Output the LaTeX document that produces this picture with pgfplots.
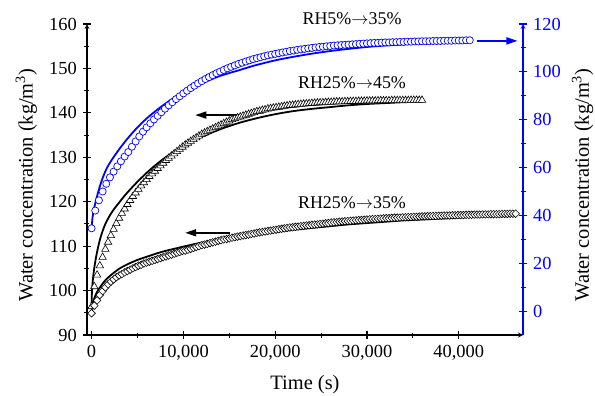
\documentclass[border=0pt]{standalone}
\usepackage{pgfplots}
\pgfplotsset{compat=1.18}
\usepackage{fontspec}
\setmainfont{Liberation Serif}
\usetikzlibrary{arrows.meta}
\begin{document}
\fontsize{18}{21}\selectfont
\begin{tikzpicture}
\pgfplotsset{
  common/.style={scale only axis, width=436bp, height=311bp,
    xmin=-500, xmax=47000, clip=false,
    /pgf/number format/assume math mode=true,
    /pgf/number format/1000 sep={,},
    tick align=outside, major tick length=8bp, minor tick length=5bp,
    axis line style={-, line width=1.2bp},
    every tick/.style={line width=1.1bp},
    tick label style={font=\fontsize{18.5}{21}\selectfont},
    label style={font=\fontsize{20.5}{24}\selectfont},
  }
}
\begin{axis}[common, name=ax,
  ymin=90, ymax=160,
  axis x line=bottom, axis y line=left,
  xtick={0,10000,20000,30000,40000}, minor x tick num=1,
  ytick={90,100,...,160}, minor y tick num=1,
  xlabel={Time (s)},
  xlabel style={yshift=-3bp},
  ylabel={Water concentration (kg/m\textsuperscript{3})},
  ylabel style={at={(ticklabel cs:0.482)}, font=\fontsize{20.5}{24}\selectfont},
  scaled x ticks=false,
]
% fit line RH25->45
\addplot[black, line width=1.8bp, smooth] coordinates {(0,96.5)(25,99)(100,101.5)(200,103.6)(300,105.2)(450,107.1)(650,109.2)(900,111.4)(1200,113.4)(1500,115.0)(1800,116.2)(2100,117.3)(2500,118.5)(3000,119.8)(3500,121.1)(4000,122.3)(5000,124.5)(6000,126.5)(7000,128.3)(8000,129.9)(9000,131.3)(10000,132.5)(11000,133.6)(12000,134.6)(14000,136.3)(16000,137.7)(18000,138.8)(20000,139.7)(22000,140.4)(24000,140.9)(26000,141.3)(28000,141.7)(30000,142.0)(32000,142.2)(34000,142.4)(36000,142.5)};
% fit line RH25->35
\addplot[black, line width=1.8bp, smooth] coordinates {(0,95)(25,96)(100,96.9)(300,98.3)(600,99.7)(1000,101.0)(1500,102.3)(2000,103.3)(3000,104.9)(4000,106.0)(5000,106.9)(6000,107.6)(7000,108.3)(8000,108.9)(9000,109.4)(10000,109.9)(12000,110.8)(14000,111.5)(16000,112.1)(18000,112.7)(20000,113.2)(22000,113.7)(24000,114.1)(26000,114.5)(28000,114.9)(30000,115.2)(32000,115.5)(34000,115.8)(36000,116.0)(38000,116.2)(40000,116.4)(42000,116.6)(44000,116.8)(46200,116.9)};
% triangles RH25->45
\addplot[only marks, mark=triangle*, mark size=4.3, mark options={fill=white, draw=black, line width=0.6bp}] coordinates {(0,96.4)(300,100.9)(600,103.5)(900,105.6)(1200,107.5)(1500,109.3)(1800,110.9)(2100,112.4)(2400,113.8)(2700,115.1)(3000,116.3)(3300,117.4)(3600,118.4)(3900,119.4)(4200,120.3)(4500,121.2)(4800,122.0)(5100,122.8)(5400,123.6)(5700,124.3)(6000,125.0)(6300,125.7)(6600,126.3)(6900,126.9)(7200,127.5)(7500,128.1)(7800,128.7)(8100,129.3)(8400,129.8)(8700,130.3)(9000,130.8)(9300,131.3)(9600,131.8)(9900,132.3)(10200,132.8)(10500,133.2)(10800,133.6)(11100,134.0)(11400,134.4)(11700,134.8)(12000,135.2)(12300,135.5)(12600,135.8)(12900,136.1)(13200,136.4)(13500,136.7)(13800,137.0)(14100,137.3)(14400,137.6)(14700,137.9)(15000,138.2)(15300,138.5)(15600,138.7)(15900,138.9)(16200,139.1)(16500,139.3)(16800,139.5)(17100,139.7)(17400,139.9)(17700,140.1)(18000,140.3)(18300,140.4)(18600,140.6)(18900,140.7)(19200,140.9)(19500,141.0)(19800,141.1)(20100,141.2)(20400,141.3)(20700,141.4)(21000,141.5)(21300,141.6)(21600,141.7)(21900,141.75)(22200,141.8)(22500,141.9)(22800,141.95)(23100,142.0)(23400,142.05)(23700,142.1)(24000,142.15)(24300,142.2)(24600,142.25)(24900,142.3)(25200,142.3)(25500,142.35)(25800,142.4)(26100,142.4)(26400,142.45)(26700,142.5)(27000,142.5)(27300,142.5)(27600,142.55)(27900,142.55)(28200,142.6)(28500,142.6)(28800,142.6)(29100,142.65)(29400,142.65)(29700,142.65)(30000,142.7)(30300,142.7)(30600,142.7)(30900,142.7)(31200,142.75)(31500,142.75)(31800,142.75)(32100,142.75)(32400,142.75)(32700,142.8)(33000,142.8)(33300,142.8)(33600,142.8)(33900,142.8)(34200,142.8)(34500,142.8)(34800,142.85)(35100,142.85)(35400,142.85)(35700,142.85)(36000,142.85)};
% diamonds RH25->35
\addplot[only marks, mark=square*, mark size=2.7, mark options={rotate=45, fill=white, draw=black, line width=0.6bp}] coordinates {(0,94.9)(300,96.6)(600,97.8)(900,99.0)(1200,99.9)(1500,100.7)(1800,101.4)(2100,102.0)(2400,102.5)(2700,103.0)(3000,103.4)(3300,103.7)(3600,104.1)(3900,104.4)(4200,104.7)(4500,105.0)(4800,105.3)(5100,105.6)(5400,105.8)(5700,106.1)(6000,106.3)(6300,106.5)(6600,106.7)(6900,106.9)(7200,107.1)(7500,107.3)(7800,107.5)(8100,107.7)(8400,107.9)(8700,108.1)(9000,108.3)(9300,108.5)(9600,108.7)(9900,108.9)(10200,109.0)(10500,109.2)(10800,109.4)(11100,109.6)(11400,109.8)(11700,110.0)(12000,110.2)(12300,110.35)(12600,110.5)(12900,110.7)(13200,110.85)(13500,111.0)(13800,111.2)(14100,111.35)(14400,111.5)(14700,111.6)(15000,111.75)(15300,111.9)(15600,112.0)(15900,112.15)(16200,112.25)(16500,112.4)(16800,112.5)(17100,112.6)(17400,112.75)(17700,112.85)(18000,113.0)(18300,113.1)(18600,113.2)(18900,113.3)(19200,113.4)(19500,113.5)(19800,113.6)(20100,113.7)(20400,113.8)(20700,113.9)(21000,114.0)(21300,114.1)(21600,114.2)(21900,114.25)(22200,114.35)(22500,114.4)(22800,114.5)(23100,114.55)(23400,114.65)(23700,114.7)(24000,114.8)(24300,114.85)(24600,114.9)(24900,115.0)(25200,115.05)(25500,115.15)(25800,115.2)(26100,115.3)(26400,115.35)(26700,115.4)(27000,115.5)(27300,115.55)(27600,115.6)(27900,115.65)(28200,115.7)(28500,115.75)(28800,115.8)(29100,115.85)(29400,115.9)(29700,115.95)(30000,116.0)(30300,116.05)(30600,116.1)(30900,116.1)(31200,116.15)(31500,116.2)(31800,116.25)(32100,116.3)(32400,116.3)(32700,116.35)(33000,116.4)(33300,116.4)(33600,116.45)(33900,116.5)(34200,116.5)(34500,116.55)(34800,116.55)(35100,116.6)(35400,116.6)(35700,116.65)(36000,116.7)(36300,116.7)(36600,116.75)(36900,116.75)(37200,116.8)(37500,116.8)(37800,116.85)(38100,116.85)(38400,116.9)(38700,116.9)(39000,116.9)(39300,116.95)(39600,116.95)(39900,117.0)(40200,117.0)(40500,117.0)(40800,117.05)(41100,117.05)(41400,117.05)(41700,117.1)(42000,117.1)(42300,117.1)(42600,117.15)(42900,117.15)(43200,117.15)(43500,117.2)(43800,117.2)(44100,117.2)(44400,117.2)(44700,117.25)(45000,117.25)(45300,117.25)(45600,117.3)(45900,117.3)(46200,117.3)};
% annotations
\node at (axis cs:28370,161.1) {RH5\%$\rightarrow$35\%};
\node at (axis cs:28370,146.9) {RH25\%$\rightarrow$45\%};
\node at (axis cs:28370,119.9) {RH25\%$\rightarrow$35\%};
\draw[-{Triangle[length=11bp,width=7bp]}, line width=1.6bp] (axis cs:16200,139.5) -- (axis cs:11300,139.5);
\draw[-{Triangle[length=11bp,width=7bp]}, line width=1.6bp] (axis cs:15100,113.0) -- (axis cs:10200,113.0);
\draw[blue, -{Triangle[length=11bp,width=7bp]}, line width=1.6bp] (axis cs:41960,156.2) -- (axis cs:46400,156.2);
\end{axis}
\begin{axis}[common, at={(ax.south west)}, anchor=south west,
  ymin=-10, ymax=120,
  axis x line=none, axis y line=right,
  ytick={0,20,...,120}, minor y tick num=1,
  y axis line style={blue}, ytick style={blue}, yticklabel style={blue},
  ylabel={Water concentration (kg/m\textsuperscript{3})},
  ylabel style={at={(ticklabel cs:0.482)}, font=\fontsize{20.5}{24}\selectfont, yshift=1bp},
]
\addplot[blue, line width=1.8bp, smooth] coordinates {(0,34.6)(100,39)(250,42.5)(450,45.8)(650,48.8)(850,51.5)(1100,54.5)(1400,57.5)(1700,60)(2000,62)(2500,64.9)(3000,67.6)(3500,70.1)(4000,72.5)(5000,76.8)(6000,80.5)(7000,83.7)(8000,86.6)(9000,89.2)(10000,91.4)(11000,93.4)(12000,95.2)(13000,96.8)(14000,98.3)(15000,99.5)(16000,100.6)(17000,101.8)(18000,102.9)(20000,104.8)(22000,106.3)(24000,107.6)(26000,108.7)(28000,109.6)(30000,110.4)(32000,111.0)(34000,111.5)(36000,112.0)(38000,112.4)(40000,112.7)(41200,112.9)};
\addplot[only marks, mark=*, mark size=3.6, mark options={fill=white, draw=blue, line width=0.7bp}] coordinates {(0,34.6)(400,42.0)(800,46.3)(1200,50.0)(1600,53.2)(2000,55.9)(2400,58.3)(2800,60.5)(3200,62.6)(3600,64.6)(4000,66.5)(4400,68.7)(4800,70.9)(5200,73.0)(5600,75.0)(6000,76.8)(6400,78.5)(6800,80.1)(7200,81.6)(7600,83.1)(8000,84.6)(8400,86.0)(8800,87.3)(9200,88.6)(9600,89.8)(10000,91.0)(10400,92.1)(10800,93.2)(11200,94.2)(11600,95.2)(12000,96.1)(12400,97.0)(12800,97.8)(13200,98.6)(13600,99.4)(14000,100.1)(14400,100.8)(14800,101.5)(15200,102.1)(15600,102.7)(16000,103.3)(16400,103.8)(16800,104.3)(17200,104.8)(17600,105.3)(18000,105.7)(18400,106.1)(18800,106.5)(19200,106.9)(19600,107.2)(20000,107.5)(20400,107.8)(20800,108.1)(21200,108.4)(21600,108.7)(22000,108.9)(22400,109.2)(22800,109.4)(23200,109.6)(23600,109.8)(24000,110.0)(24400,110.2)(24800,110.4)(25200,110.5)(25600,110.7)(26000,110.8)(26400,111.0)(26800,111.1)(27200,111.2)(27600,111.3)(28000,111.4)(28400,111.5)(28800,111.6)(29200,111.7)(29600,111.8)(30000,111.9)(30400,112.0)(30800,112.1)(31200,112.1)(31600,112.2)(32000,112.3)(32400,112.3)(32800,112.4)(33200,112.4)(33600,112.5)(34000,112.5)(34400,112.6)(34800,112.6)(35200,112.7)(35600,112.7)(36000,112.8)(36400,112.8)(36800,112.8)(37200,112.9)(37600,112.9)(38000,112.9)(38400,113.0)(38800,113.0)(39200,113.0)(39600,113.1)(40000,113.1)(40400,113.1)(40800,113.2)(41200,113.2)};
\end{axis}
\pgfresetboundingbox
\path (ax.south west) ++(-87bp,-61bp) rectangle ++(595bp,396bp);
\end{tikzpicture}
\end{document}
